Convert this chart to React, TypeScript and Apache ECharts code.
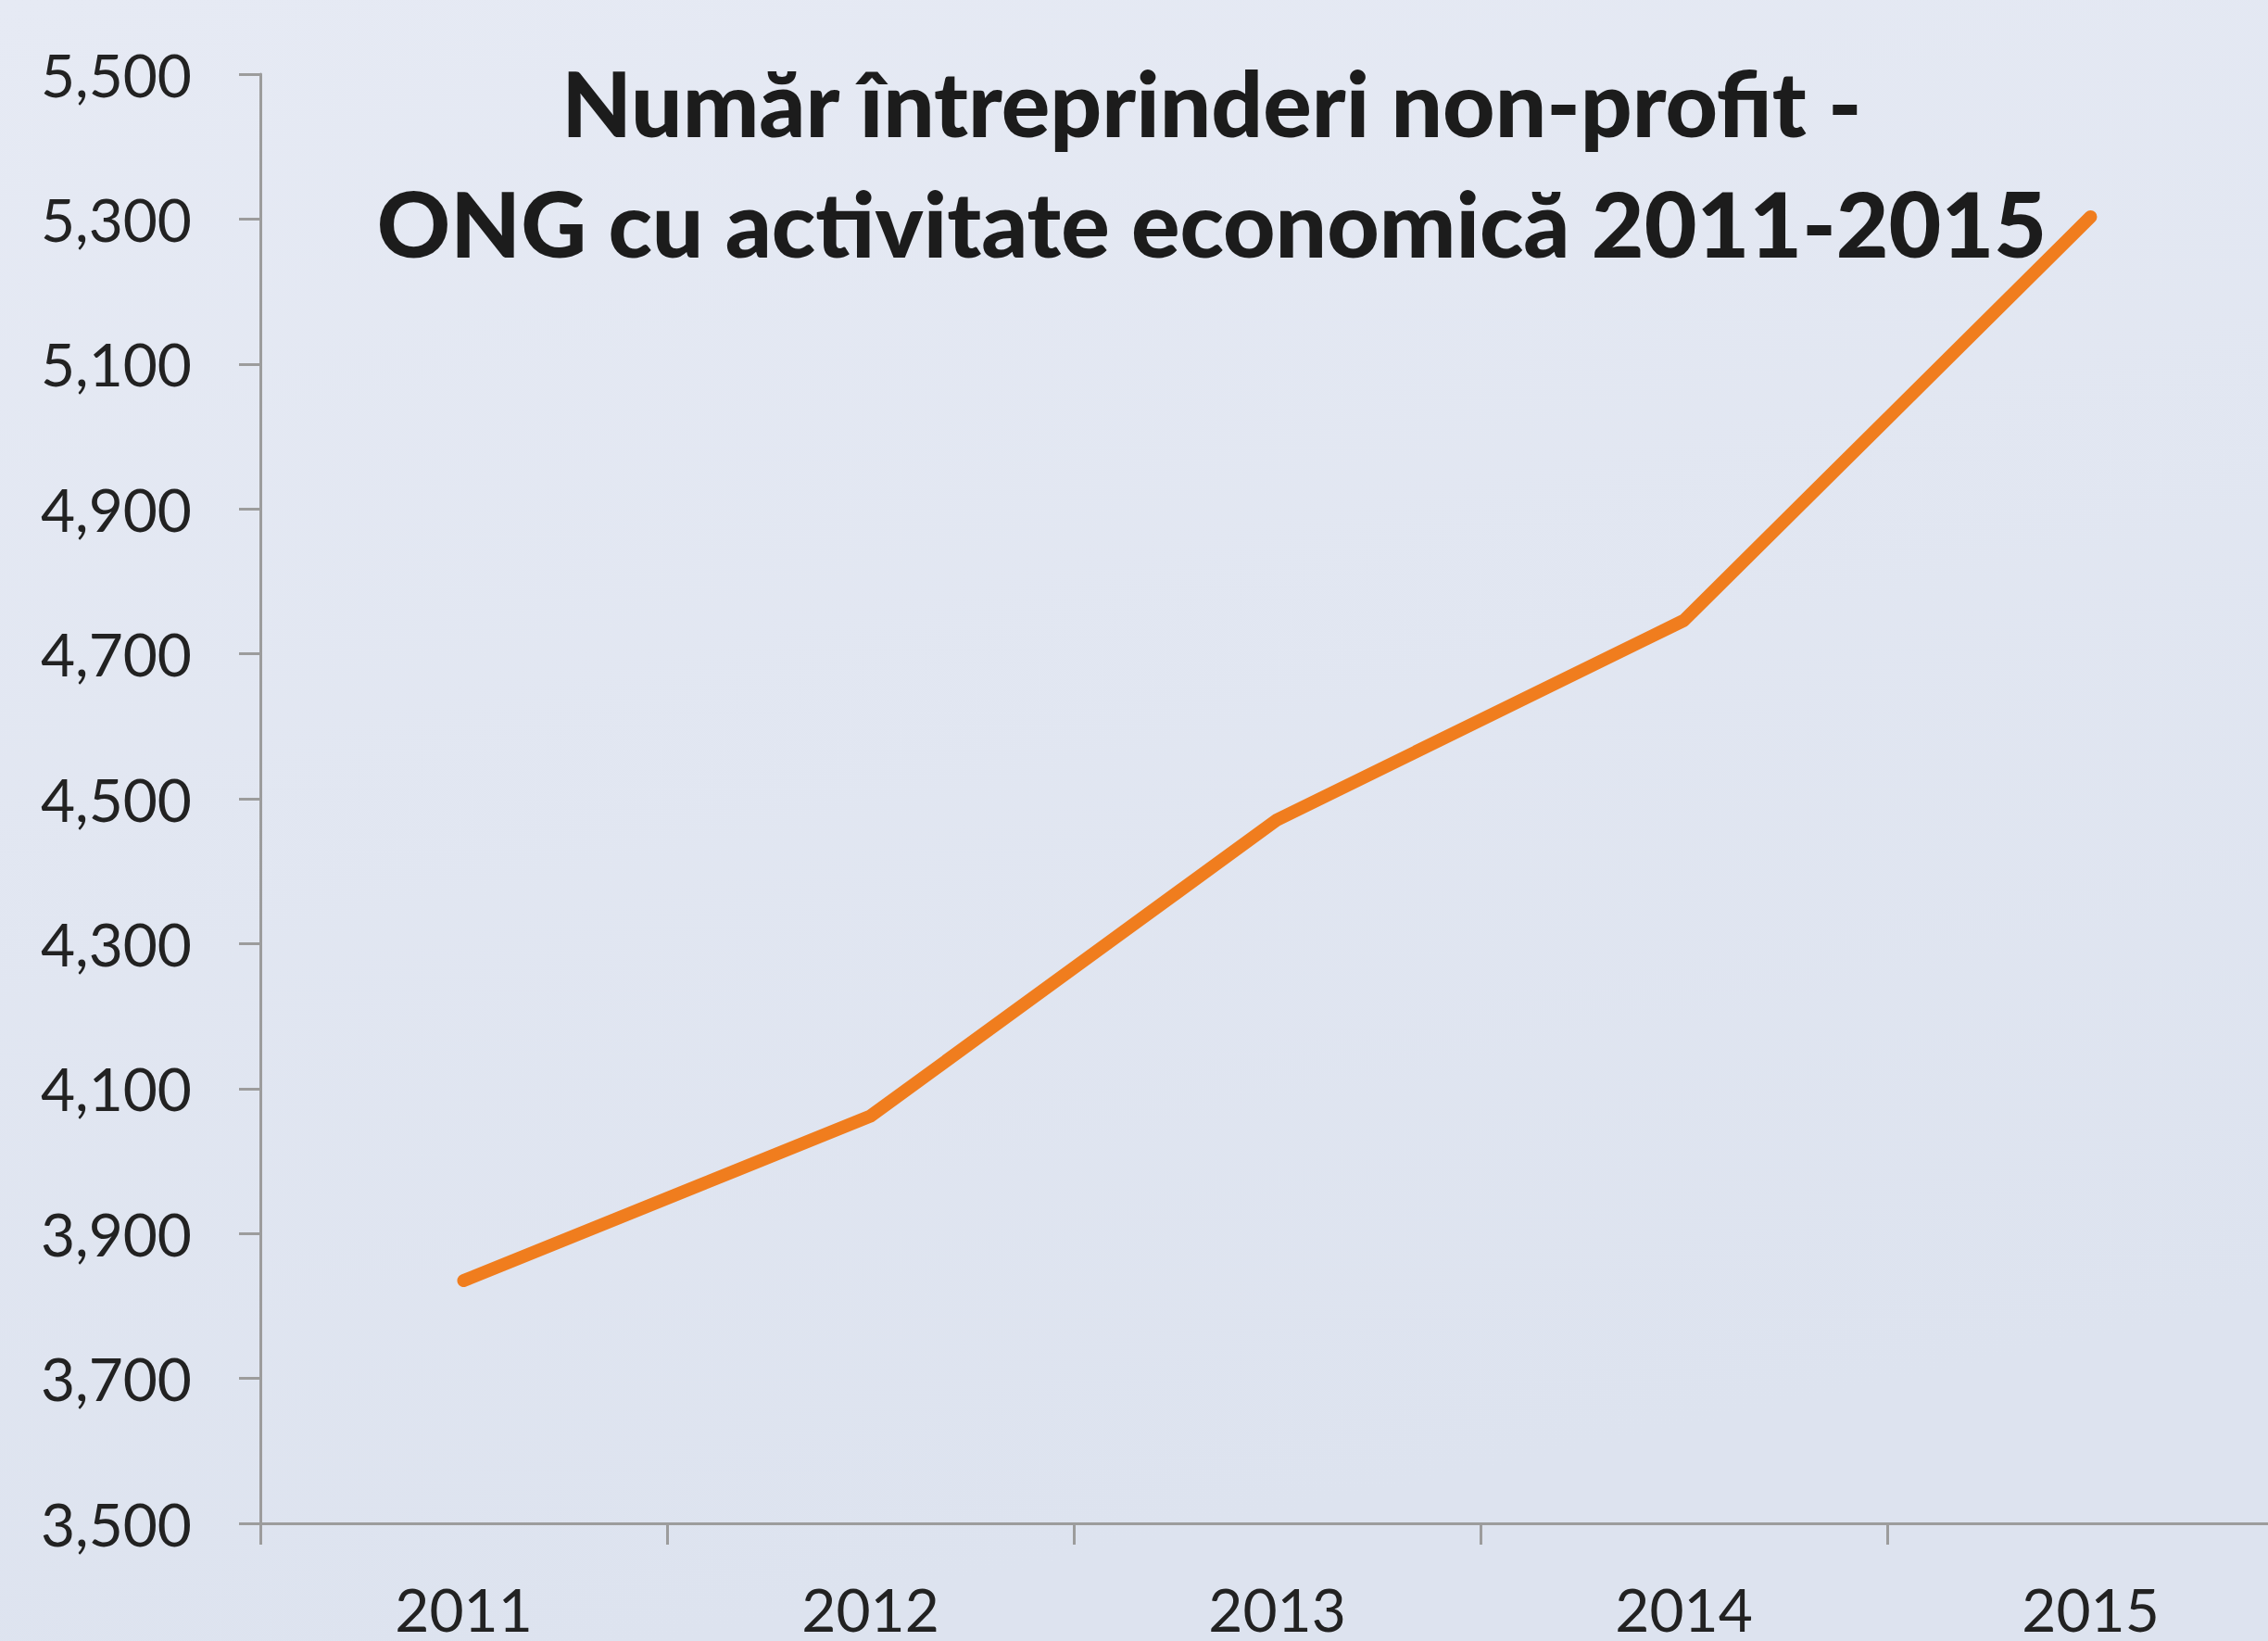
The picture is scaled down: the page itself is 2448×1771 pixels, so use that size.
import React, { useEffect, useRef } from "react";
import * as echarts from "echarts";

const years = ["2011", "2012", "2013", "2014", "2015"];
const enterprises = [3835, 4062, 4471, 4746, 5303];
const titleLines = ["Număr întreprinderi non-profit -", "ONG cu activitate economică 2011-2015"];

export default function App() {
  const ref = useRef<HTMLDivElement>(null);
  useEffect(() => {
    if (!ref.current) return;
    const chart = echarts.init(ref.current, undefined, { renderer: "svg" });
    chart.setOption({
      animation: false,
      backgroundColor: {
        type: "linear",
        x: 0,
        y: 0,
        x2: 0.3,
        y2: 1,
        colorStops: [
          { offset: 0, color: "#e6eaf4" },
          { offset: 1, color: "#dde3ef" },
        ],
      },
      title: {
        text: titleLines.join("\n"),
        left: 1303,
        top: 40,
        textAlign: "center",
        textStyle: {
          fontFamily: "Lato",
          fontWeight: 900,
          fontSize: 98,
          lineHeight: 130,
          color: "#1c1c1c",
        },
      },
      grid: { left: 281, top: 80, bottom: 127, right: 24, containLabel: false },
      xAxis: {
        type: "category",
        data: years,
        boundaryGap: true,
        axisLine: { lineStyle: { color: "#9c9c9c", width: 3 } },
        axisTick: { show: true, length: 23, lineStyle: { color: "#9c9c9c", width: 3 } },
        axisLabel: {
          fontFamily: "Lato",
          fontSize: 64,
          color: "#222",
          margin: 60,
          lineHeight: 64,
        },
        splitLine: { show: false },
      },
      yAxis: {
        type: "value",
        min: 3500,
        max: 5500,
        interval: 200,
        axisLine: { show: true, lineStyle: { color: "#9c9c9c", width: 3 } },
        axisTick: { show: true, length: 23, lineStyle: { color: "#9c9c9c", width: 3 } },
        axisLabel: {
          fontFamily: "Lato",
          fontSize: 64,
          color: "#222",
          margin: 74,
          formatter: (v: number) => v.toLocaleString("en-US"),
        },
        splitLine: { show: false },
      },
      series: [
        {
          type: "line",
          data: enterprises,
          symbol: "none",
          lineStyle: { color: "#f07d1e", width: 14, cap: "round", join: "round" },
        },
      ],
    });
    return () => chart.dispose();
  }, []);
  return (
    <div style={{ position: "fixed", left: 0, top: 0, width: 2448, height: 1771, overflow: "hidden" }}>
      <div ref={ref} style={{ width: 2500, height: 1771 }} />
    </div>
  );
}
